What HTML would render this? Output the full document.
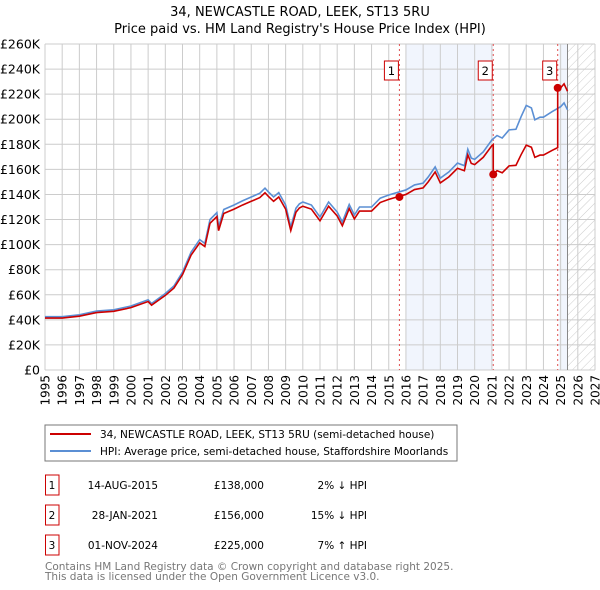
<!DOCTYPE html>
<html><head><meta charset="utf-8"><style>
body{margin:0;background:#fff;width:600px;height:590px;overflow:hidden;font-family:"DejaVu Sans","Liberation Sans",sans-serif}
svg{position:absolute;left:0;top:0}
</style></head><body>
<svg id="c" width="600" height="590" font-family="DejaVu Sans, Liberation Sans, sans-serif">
<defs><pattern id="hatch" width="6" height="6" patternUnits="userSpaceOnUse" patternTransform="rotate(45)"><line x1="0" y1="0" x2="0" y2="6" stroke="#ccc" stroke-width="1"/></pattern></defs>
<text x="300" y="16" text-anchor="middle" font-size="13">34, NEWCASTLE ROAD, LEEK, ST13 5RU</text>
<text x="300" y="33" text-anchor="middle" font-size="13">Price paid vs. HM Land Registry's House Price Index (HPI)</text>
<g id="plot"></g>
<rect x="45" y="425" width="412" height="36" fill="none" stroke="#777"/>
<line x1="50" y1="434" x2="91" y2="434" stroke="#cc0000" stroke-width="2"/>
<text x="100" y="438" font-size="10.5">34, NEWCASTLE ROAD, LEEK, ST13 5RU (semi-detached house)</text>
<line x1="50" y1="451" x2="91" y2="451" stroke="#5b8fd4" stroke-width="2"/>
<text x="100" y="455" font-size="10.5">HPI: Average price, semi-detached house, Staffordshire Moorlands</text>
<g font-size="10.5" id="tbl"></g>
<text x="45" y="570" font-size="10.5" fill="#777">Contains HM Land Registry data © Crown copyright and database right 2025.</text>
<text x="45" y="580" font-size="10.5" fill="#777">This data is licensed under the Open Government Licence v3.0.</text>
</svg>
<script>
const hpiYears=[1995,1996,1997,1998,1999,2000,2001,2001.2,2002,2002.5,2003,2003.5,2004,2004.3,2004.6,2005,2005.1,2005.4,2006,2006.5,2007,2007.5,2007.8,2008,2008.3,2008.6,2009,2009.3,2009.6,2009.8,2010,2010.5,2011,2011.5,2012,2012.3,2012.7,2013,2013.3,2014,2014.5,2015,2015.6,2016,2016.5,2017,2017.3,2017.7,2018,2018.5,2019,2019.4,2019.6,2019.8,2020,2020.5,2021,2021.3,2021.6,2022,2022.4,2022.7,2023,2023.3,2023.5,2023.8,2024,2024.5,2025,2025.2,2025.4];
const hpiValues=[42.5,42.5,44,47,48,51,56,53,61,67,78,94,104,101,120,125.5,114,128,131.6,135,138,141,145,142,138,141.5,131.6,114,129,132.5,134,131.6,122,134,126,118,132,123.6,130,130,137,139.6,142,143.6,147.6,149,154,162,153,158,165,163,176,169,168,174,183.5,187,185,191.5,192,202,211,209,199.5,201.6,201.6,206,210,213,207.5];
const saleYears=[2015.62,2021.08,2024.83];
const salePrices=[138,156,225];
const saleLabels=["1","2","3"];
const saleDates=["14-AUG-2015","28-JAN-2021","01-NOV-2024"];
const salePriceText=["£138,000","£156,000","£225,000"];
const saleHpiText=["2% ↓ HPI","15% ↓ HPI","7% ↑ HPI"];
const yTicks=[0,20,40,60,80,100,120,140,160,180,200,220,240,260];
const xTicks=[1995,1996,1997,1998,1999,2000,2001,2002,2003,2004,2005,2006,2007,2008,2009,2010,2011,2012,2013,2014,2015,2016,2017,2018,2019,2020,2021,2022,2023,2024,2025,2026,2027];

const X0=45,X1=595,Y0=370,Y1=44;
const sx=y=>X0+(y-1995)/(2027-1995)*(X1-X0);
const sy=v=>Y0-v/260*(Y0-Y1);
const NS="http://www.w3.org/2000/svg";
const g=document.getElementById('plot');
function mk(t,a,p){const e=document.createElementNS(NS,t);for(const k in a)e.setAttribute(k,a[k]);(p||g).appendChild(e);return e;}
let e;
e=mk('rect',{x:sx(2016),y:Y1,width:sx(saleYears[1])-sx(2016),height:Y0-Y1,fill:'#eef3fc',opacity:0.8});


e=mk('rect',{x:sx(2024.9),y:Y1,width:sx(2025.4)-sx(2024.9),height:Y0-Y1,fill:'#eef3fc',opacity:0.8});


e=mk('rect',{x:sx(2025.4),y:Y1,width:X1-sx(2025.4),height:Y0-Y1,fill:'url(#hatch)'});


yTicks.forEach(v=>{
 e=mk('line',{x1:X0,x2:X1,y1:sy(v),y2:sy(v),stroke:'#ccc'});
 
 
 e=mk('text',{x:40,y:sy(v)+4.5,'text-anchor':'end','font-size':12.5});
 e.textContent=v===0?'£0':'£'+v+'K';
 
 
});
xTicks.forEach(y=>{
 e=mk('line',{x1:sx(y),x2:sx(y),y1:Y1,y2:Y0,stroke:'#ccc'});
 
 
 e=mk('text',{x:0,y:0,'text-anchor':'end','font-size':12,transform:`translate(${sx(y)+4.5},375) rotate(-90)`});
 e.textContent=y;
 
 
});
e=mk('line',{x1:sx(2025.4),x2:sx(2025.4),y1:Y1,y2:Y0,stroke:'#888'});


saleYears.forEach((y,i)=>{
 e=mk('line',{x1:sx(y),x2:sx(y),y1:Y1,y2:Y0,stroke:'#e05050','stroke-dasharray':'2,3'});
 
 
});
function ratioAt(y){return y<saleYears[1]?0.975:(y<saleYears[2]?salePrices[1]/183.5:salePrices[2]/210);}
let bp=hpiYears.map((y,i)=>sx(y)+','+sy(hpiValues[i])).join(' ');
e=mk('polyline',{points:bp,fill:'none',stroke:'#5b8fd4','stroke-width':1.6});


let rp=[];
hpiYears.forEach((y,i)=>{
 saleYears.forEach((s,k)=>{ if(k>0 && s>(hpiYears[i-1]||0) && s<=y){
   const prev=hpiValues[i-1]+(hpiValues[i]-hpiValues[i-1])*(s-hpiYears[i-1])/(y-hpiYears[i-1]);
   rp.push(sx(s)+','+sy(prev*ratioAt(s-0.001)));rp.push(sx(s)+','+sy(salePrices[k]));}});
 rp.push(sx(y)+','+sy(hpiValues[i]*ratioAt(y)));
});
e=mk('polyline',{points:rp.join(' '),fill:'none',stroke:'#cc0000','stroke-width':1.6});


saleYears.forEach((y,i)=>{
 e=mk('circle',{cx:sx(y),cy:sy(salePrices[i]),r:4,fill:'#cc0000'});
 
 
 e=mk('rect',{x:sx(y)-15,y:61,width:14,height:19,fill:'#fff',stroke:'#cc0000'});
 
 
 e=mk('text',{x:sx(y)-8,y:75,'text-anchor':'middle','font-size':11.5});
 e.textContent=saleLabels[i];
 
 
});
const t=document.getElementById('tbl');
saleLabels.forEach((l,i)=>{
 const cy=483+i*30;
 e=mk('rect',{x:45.5,y:cy-8,width:13.5,height:20,fill:'none',stroke:'#cc0000'},t);
 
 
 e=mk('text',{x:52,y:cy+6,'text-anchor':'middle'},t);e.textContent=l;
 
 
 e=mk('text',{x:158,y:cy+6,'text-anchor':'end'},t);e.textContent=saleDates[i];
 
 
 e=mk('text',{x:264,y:cy+6,'text-anchor':'end'},t);e.textContent=salePriceText[i];
 
 
 e=mk('text',{x:367,y:cy+6,'text-anchor':'end'},t);e.textContent=saleHpiText[i];
 
 
});
</script>
</body></html>
